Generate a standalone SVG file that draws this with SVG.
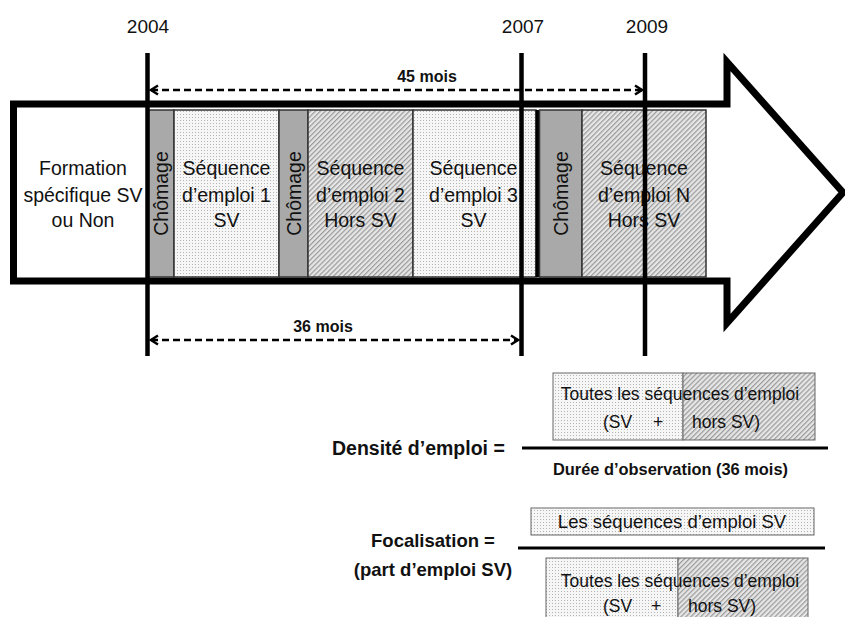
<svg xmlns="http://www.w3.org/2000/svg" width="845" height="617" viewBox="0 0 845 617">
<style>
text{font-family:"Liberation Sans",Arial,sans-serif;fill:#111}
.seg{font-size:19.5px;text-anchor:middle}
.yr{font-size:19px;text-anchor:middle}
.b{font-weight:bold}
.box{font-size:17.5px}
.ch{fill:#a9a9a9;stroke:#333;stroke-width:1.5}
.dt{fill:url(#dots);stroke:#333;stroke-width:1.5}
.ht{fill:url(#hatch);stroke:#333;stroke-width:1.5}
.fb{stroke:#666;stroke-width:1}
.vl{stroke:#000;stroke-width:4.5}
.dash{stroke:#000;stroke-width:2.5;stroke-dasharray:7 4;fill:none;marker-start:url(#chev);marker-end:url(#chev)}
.frac{stroke:#000;stroke-width:3}
</style>
<defs>
<pattern id="dots" width="3" height="3" patternUnits="userSpaceOnUse"><rect width="3" height="3" fill="#f6f6f6"/><rect width="1" height="1" fill="#b4b4b4"/></pattern>
<pattern id="hatch" width="3.5" height="3.5" patternUnits="userSpaceOnUse" patternTransform="rotate(45)"><rect width="3.5" height="3.5" fill="#e6e6e6"/><rect width="1.2" height="3.5" fill="#9a9a9a"/></pattern>
<marker id="chev" viewBox="-10 -6 12 12" markerWidth="12" markerHeight="12" refX="0" refY="0" orient="auto-start-reverse" markerUnits="userSpaceOnUse"><path d="M-7,-4.5 L0,0 L-7,4.5" fill="none" stroke="#000" stroke-width="2.5"/></marker>
</defs>

<g id="arrow">
<polygon points="13.5,104 727,104 727,62 843,192.5 727,323 727,281 13.5,281" fill="#fff" stroke="#000" stroke-width="7" stroke-miterlimit="10"/>
</g>

<g id="formation">
<text class="seg" x="83" y="175">Formation</text>
<text class="seg" x="83" y="202">spécifique SV</text>
<text class="seg" x="83" y="227">ou Non</text>
</g>

<g id="chomage1">
<rect class="ch" x="148.5" y="110" width="25.5" height="167"/>
<text class="seg" transform="translate(167.5,193.5) rotate(-90)">Chômage</text>
</g>
<g id="seq1">
<rect class="dt" x="174" y="110" width="105" height="167"/>
<text class="seg" x="226.5" y="175">Séquence</text>
<text class="seg" x="226.5" y="202">d’emploi 1</text>
<text class="seg" x="226.5" y="227">SV</text>
</g>
<g id="chomage2">
<rect class="ch" x="279" y="110" width="29" height="167"/>
<text class="seg" transform="translate(300.5,193.5) rotate(-90)">Chômage</text>
</g>
<g id="seq2">
<rect class="ht" x="308" y="110" width="105" height="167"/>
<text class="seg" x="360.5" y="175">Séquence</text>
<text class="seg" x="360.5" y="202">d’emploi 2</text>
<text class="seg" x="360.5" y="227">Hors SV</text>
</g>
<g id="seq3">
<rect class="dt" x="413" y="110" width="123" height="167"/>
<text class="seg" x="473.5" y="175">Séquence</text>
<text class="seg" x="473.5" y="202">d’emploi 3</text>
<text class="seg" x="473.5" y="227">SV</text>
</g>
<g id="chomage3">
<line x1="537.5" y1="110" x2="537.5" y2="277" stroke="#000" stroke-width="4"/>
<rect class="ch" x="539.5" y="110" width="42.5" height="167"/>
<text class="seg" transform="translate(567.5,193.5) rotate(-90)">Chômage</text>
</g>
<g id="seqN">
<rect class="ht" x="582" y="110" width="124" height="167"/>
<text class="seg" x="644" y="175">Séquence</text>
<text class="seg" x="644" y="202">d’emploi N</text>
<text class="seg" x="644" y="227">Hors SV</text>
</g>

<g id="years">
<text class="yr" x="148" y="33">2004</text>
<text class="yr" x="523" y="33">2007</text>
<text class="yr" x="647" y="33">2009</text>
<line class="vl" x1="147.5" y1="53" x2="147.5" y2="356"/>
<line class="vl" x1="521.5" y1="53" x2="521.5" y2="356"/>
<line class="vl" x1="645" y1="53" x2="645" y2="356"/>
</g>

<g id="connectors">
<line class="dash" x1="151" y1="90" x2="642" y2="90"/>
<line class="dash" x1="151" y1="340" x2="518" y2="340"/>
<text class="b" x="427" y="82" font-size="16" text-anchor="middle">45 mois</text>
<text class="b" x="323" y="332" font-size="16" text-anchor="middle">36 mois</text>
</g>

<g id="densite">
<rect x="553" y="373" width="130" height="67" fill="url(#dots)" class="fb"/>
<rect x="683" y="373" width="132" height="67" fill="url(#hatch)" class="fb"/>
<text class="box" x="680" y="400" text-anchor="middle">Toutes les séquences d’emploi</text>
<text class="box" y="428"><tspan x="603">(SV</tspan><tspan x="653">+</tspan><tspan x="692">hors SV)</tspan></text>
<line class="frac" x1="522" y1="448" x2="828" y2="448"/>
<text class="b" x="332" y="455" font-size="19.5">Densité d’emploi =</text>
<text class="b" x="553" y="475" font-size="16.4">Durée d’observation (36 mois)</text>
</g>

<g id="focalisation">
<rect x="531" y="508" width="283" height="27" fill="url(#dots)" class="fb"/>
<text x="672" y="528" font-size="18.5" text-anchor="middle">Les séquences d’emploi SV</text>
<line class="frac" x1="518" y1="548" x2="825" y2="548"/>
<text class="b" x="433" y="547" font-size="18.5" text-anchor="middle">Focalisation =</text>
<text class="b" x="433" y="576" font-size="18.5" text-anchor="middle">(part d’emploi SV)</text>
<rect x="546" y="558" width="132" height="70" fill="url(#dots)" class="fb"/>
<rect x="678" y="558" width="130" height="70" fill="url(#hatch)" class="fb"/>
<text class="box" x="680" y="587" text-anchor="middle">Toutes les séquences d’emploi</text>
<text class="box" y="612"><tspan x="603">(SV</tspan><tspan x="651">+</tspan><tspan x="688">hors SV)</tspan></text>
</g>
</svg>
